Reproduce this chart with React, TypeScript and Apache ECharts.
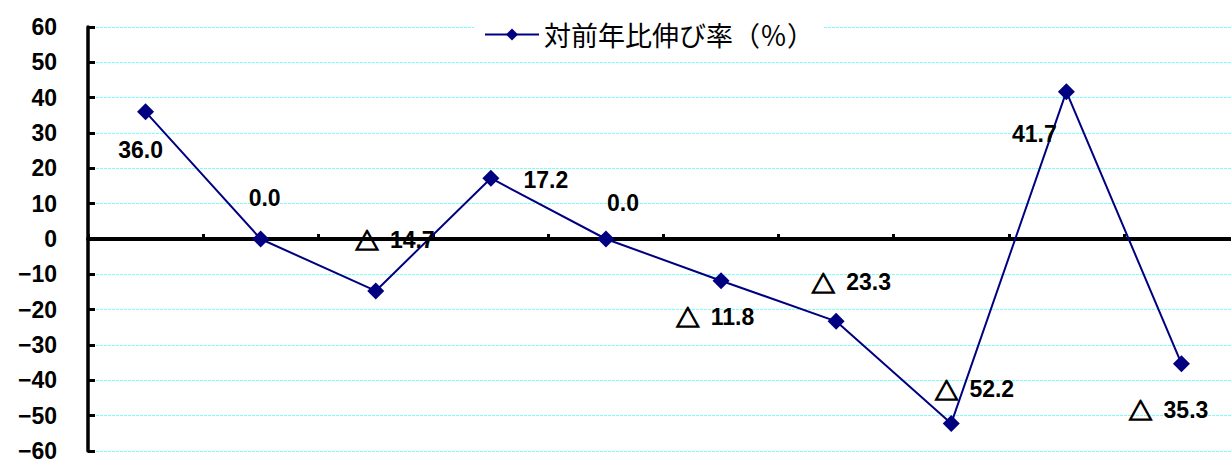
import React, { useEffect, useRef } from "react";
import * as echarts from "echarts";

const categories = ["1", "2", "3", "4", "5", "6", "7", "8", "9", "10"];
const growthRates = [36.0, 0.0, -14.7, 17.2, 0.0, -11.8, -23.3, -52.2, 41.7, -35.3];
const seriesName = "対前年比伸び率（％）";
const yMin = -60;
const yMax = 60;
const yInterval = 10;
// label offsets (layout only), relative to each point
const labelOffsets = [
  [-5, 38], [4, -41], [19, -51], [55, 2], [17, -36],
  [-6, 36], [15, -39], [23, -34], [-32, 42], [-13, 46],
];

const NUM_FONT = "'Liberation Sans', Arial, sans-serif";

export default function App() {
  const ref = useRef<HTMLDivElement>(null);
  useEffect(() => {
    if (!ref.current) return;
    const chart = echarts.init(ref.current, undefined, { renderer: "svg" });
    chart.setOption({
      animation: false,
      backgroundColor: "#ffffff",
      grid: { left: 88, right: -8, top: 27, bottom: 9, containLabel: false, outerBoundsMode: "none" },
      legend: {
        show: true,
        left: 474,
        top: 19,
        padding: [2, 10, 2, 10],
        backgroundColor: "#ffffff",
        itemWidth: 54,
        itemHeight: 15,
        textStyle: { fontSize: 27, color: "#000", fontFamily: "'Noto Sans CJK JP', sans-serif" },
        data: [seriesName],
      },
      xAxis: {
        type: "category",
        data: categories,
        boundaryGap: true,
        axisLine: { onZero: true, lineStyle: { color: "#000", width: 4 } },
        axisTick: { show: true, inside: true, length: 5, lineStyle: { color: "#000", width: 3 } },
        axisLabel: { show: false },
        splitLine: { show: false },
      },
      yAxis: {
        type: "value",
        min: yMin,
        max: yMax,
        interval: yInterval,
        axisLine: { show: true, lineStyle: { color: "#000", width: 3.5 } },
        axisTick: { show: true, inside: true, length: 7, lineStyle: { color: "#000", width: 3 } },
        axisLabel: {
          margin: 31,
          fontSize: 23,
          fontWeight: "bold",
          color: "#000",
          fontFamily: NUM_FONT,
          formatter: (v: number) => (v < 0 ? "\u2212" + Math.abs(v) : String(v)),
        },
        splitLine: { show: true, lineStyle: { color: "#7ffcfc", width: 1, type: [3, 1] } },
      },
      series: [
        {
          name: seriesName,
          type: "line",
          symbol: "diamond",
          symbolSize: 17,
          itemStyle: { color: "#000080" },
          lineStyle: { color: "#000080", width: 2 },
          label: {
            show: true,
            position: "inside",
            align: "center",
            verticalAlign: "middle",
            fontSize: 23,
            fontWeight: "bold",
            color: "#000",
            fontFamily: NUM_FONT,
            formatter: (p: any) => {
              const v = p.value as number;
              return v < 0 ? "{tri|△}" + Math.abs(v).toFixed(1) : v.toFixed(1);
            },
            rich: {
              tri: {
                fontSize: 24,
                fontWeight: "bold",
                color: "#000",
                textBorderColor: "#000",
                textBorderWidth: 1.2,
                fontFamily: "'Noto Sans CJK JP', sans-serif",
                padding: [0, 11, 0, 0],
              },
            },
          },
          data: growthRates.map((v, i) => ({ value: v, label: { offset: labelOffsets[i] } })),
        },
      ],
    });
    return () => chart.dispose();
  }, []);
  return (
    <div
      ref={ref}
      style={{ position: "absolute", left: 0, top: 0, width: 1231, height: 460 }}
    />
  );
}
